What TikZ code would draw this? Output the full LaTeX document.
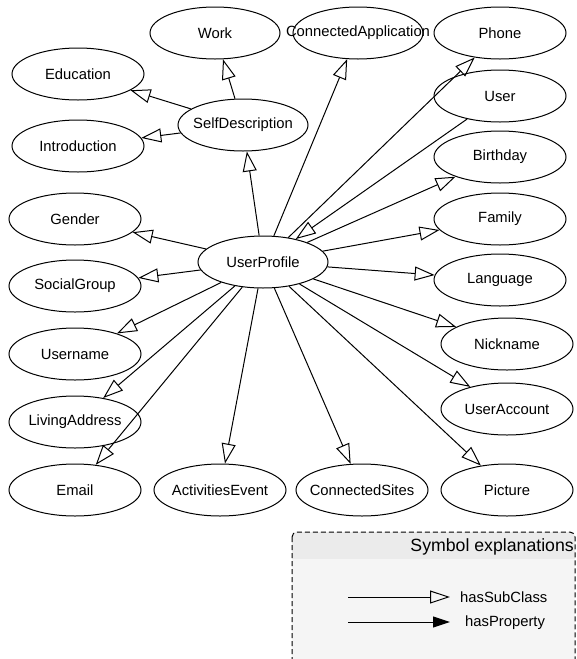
\documentclass[tikz,border=0pt]{standalone}
\usepackage{fontspec}
\setmainfont{Liberation Sans}
\usetikzlibrary{arrows.meta,shapes.geometric}
\begin{document}
\begin{tikzpicture}[x=1pt,y=-1pt,
  cls/.style={ellipse, draw, line width=1pt, minimum width=132pt, minimum height=52pt, inner xsep=-45pt, inner ysep=0pt, font=\fontsize{14.8}{17}\selectfont},
  sub/.style={-{Triangle[open,length=20pt,width=14pt]}, line width=1pt},
  legsub/.style={-{Triangle[open,length=20pt,width=13pt]}, line width=1pt},
  legprop/.style={-{Triangle[length=17pt,width=11pt]}, line width=1pt},
  legtext/.style={font=\fontsize{14.8}{17}\selectfont, inner sep=0pt},
]
\useasboundingbox (0,0) rectangle (576,659);

% legend
\begin{scope}
  \clip (0,0) rectangle (576,659);
  \fill[gray!8, rounded corners=5pt] (292,532) rectangle (575,680);
  \begin{scope}
    \clip (280,520) rectangle (580,558);
    \fill[gray!16, rounded corners=5pt] (292,532) rectangle (575,680);
  \end{scope}
  \draw[dash pattern=on 5pt off 3pt, line width=1pt, rounded corners=5pt] (292,532) rectangle (575,680);
\end{scope}
\node[anchor=east, inner sep=0pt, font=\fontsize{17.7}{20}\selectfont] (legtitle) at (574,547) {Symbol explanations};
\coordinate (s1) at (348,597);
\coordinate (s2) at (450,597);
\coordinate (p1) at (348,622);
\coordinate (p2) at (450,622);
\draw[legsub] (s1) -- (s2);
\draw[legprop] (p1) -- (p2);
\node[legtext, anchor=west] (lsub) at (460,597) {hasSubClass};
\node[legtext, anchor=west] (lprop) at (465,623) {hasProperty};

% nodes
\node[cls, minimum width=130pt] (Work) at (215,33) {Work};
\node[cls, minimum width=130pt] (ConnApp) at (358,33) {ConnectedApplication};
\node[cls] (Phone) at (500,33) {Phone};
\node[cls] (Education) at (78,74) {Education};
\node[cls, minimum width=130pt] (SelfDesc) at (243,125) {SelfDescription};
\node[cls] (User) at (500,96) {User};
\node[cls] (Introduction) at (78,146) {Introduction};
\node[cls] (Birthday) at (500,157) {Birthday};
\node[cls] (Gender) at (75,219) {Gender};
\node[cls] (Family) at (500,219) {Family};
\node[cls, minimum width=130pt] (UserProfile) at (263,262) {UserProfile};
\node[cls] (SocialGroup) at (75,286) {SocialGroup};
\node[cls] (Language) at (500,280) {Language};
\node[cls] (Nickname) at (507,344) {Nickname};
\node[cls] (Username) at (75,354) {Username};
\node[cls] (UserAccount) at (507,409) {UserAccount};
\node[cls] (LivingAddress) at (75,422) {LivingAddress};
\node[cls] (Email) at (75,490) {Email};
\node[cls] (Activities) at (220,490) {ActivitiesEvent};
\node[cls] (ConnSites) at (362,490) {ConnectedSites};
\node[cls] (Picture) at (507,490) {Picture};

% edges
\draw[sub] (SelfDesc) -- (Work);
\draw[sub] (SelfDesc) -- (Education);
\draw[sub] (SelfDesc) -- (Introduction);
\draw[sub] (UserProfile) -- (SelfDesc);
\draw[sub] (UserProfile) -- (ConnApp);
\draw[sub] (UserProfile) -- (Phone);
\draw[sub] (User) -- (UserProfile);
\draw[sub] (UserProfile) -- (Birthday);
\draw[sub] (UserProfile) -- (Family);
\draw[sub] (UserProfile) -- (Gender);
\draw[sub] (UserProfile) -- (SocialGroup);
\draw[sub] (UserProfile) -- (Language);
\draw[sub] (UserProfile) -- (Nickname);
\draw[sub] (UserProfile) -- (UserAccount);
\draw[sub] (UserProfile) -- (Username);
\draw[sub] (UserProfile) -- (LivingAddress);
\draw[sub] (UserProfile) -- (Email);
\draw[sub] (UserProfile) -- (Activities);
\draw[sub] (UserProfile) -- (ConnSites);
\draw[sub] (UserProfile) -- (Picture);
\end{tikzpicture}
\end{document}
